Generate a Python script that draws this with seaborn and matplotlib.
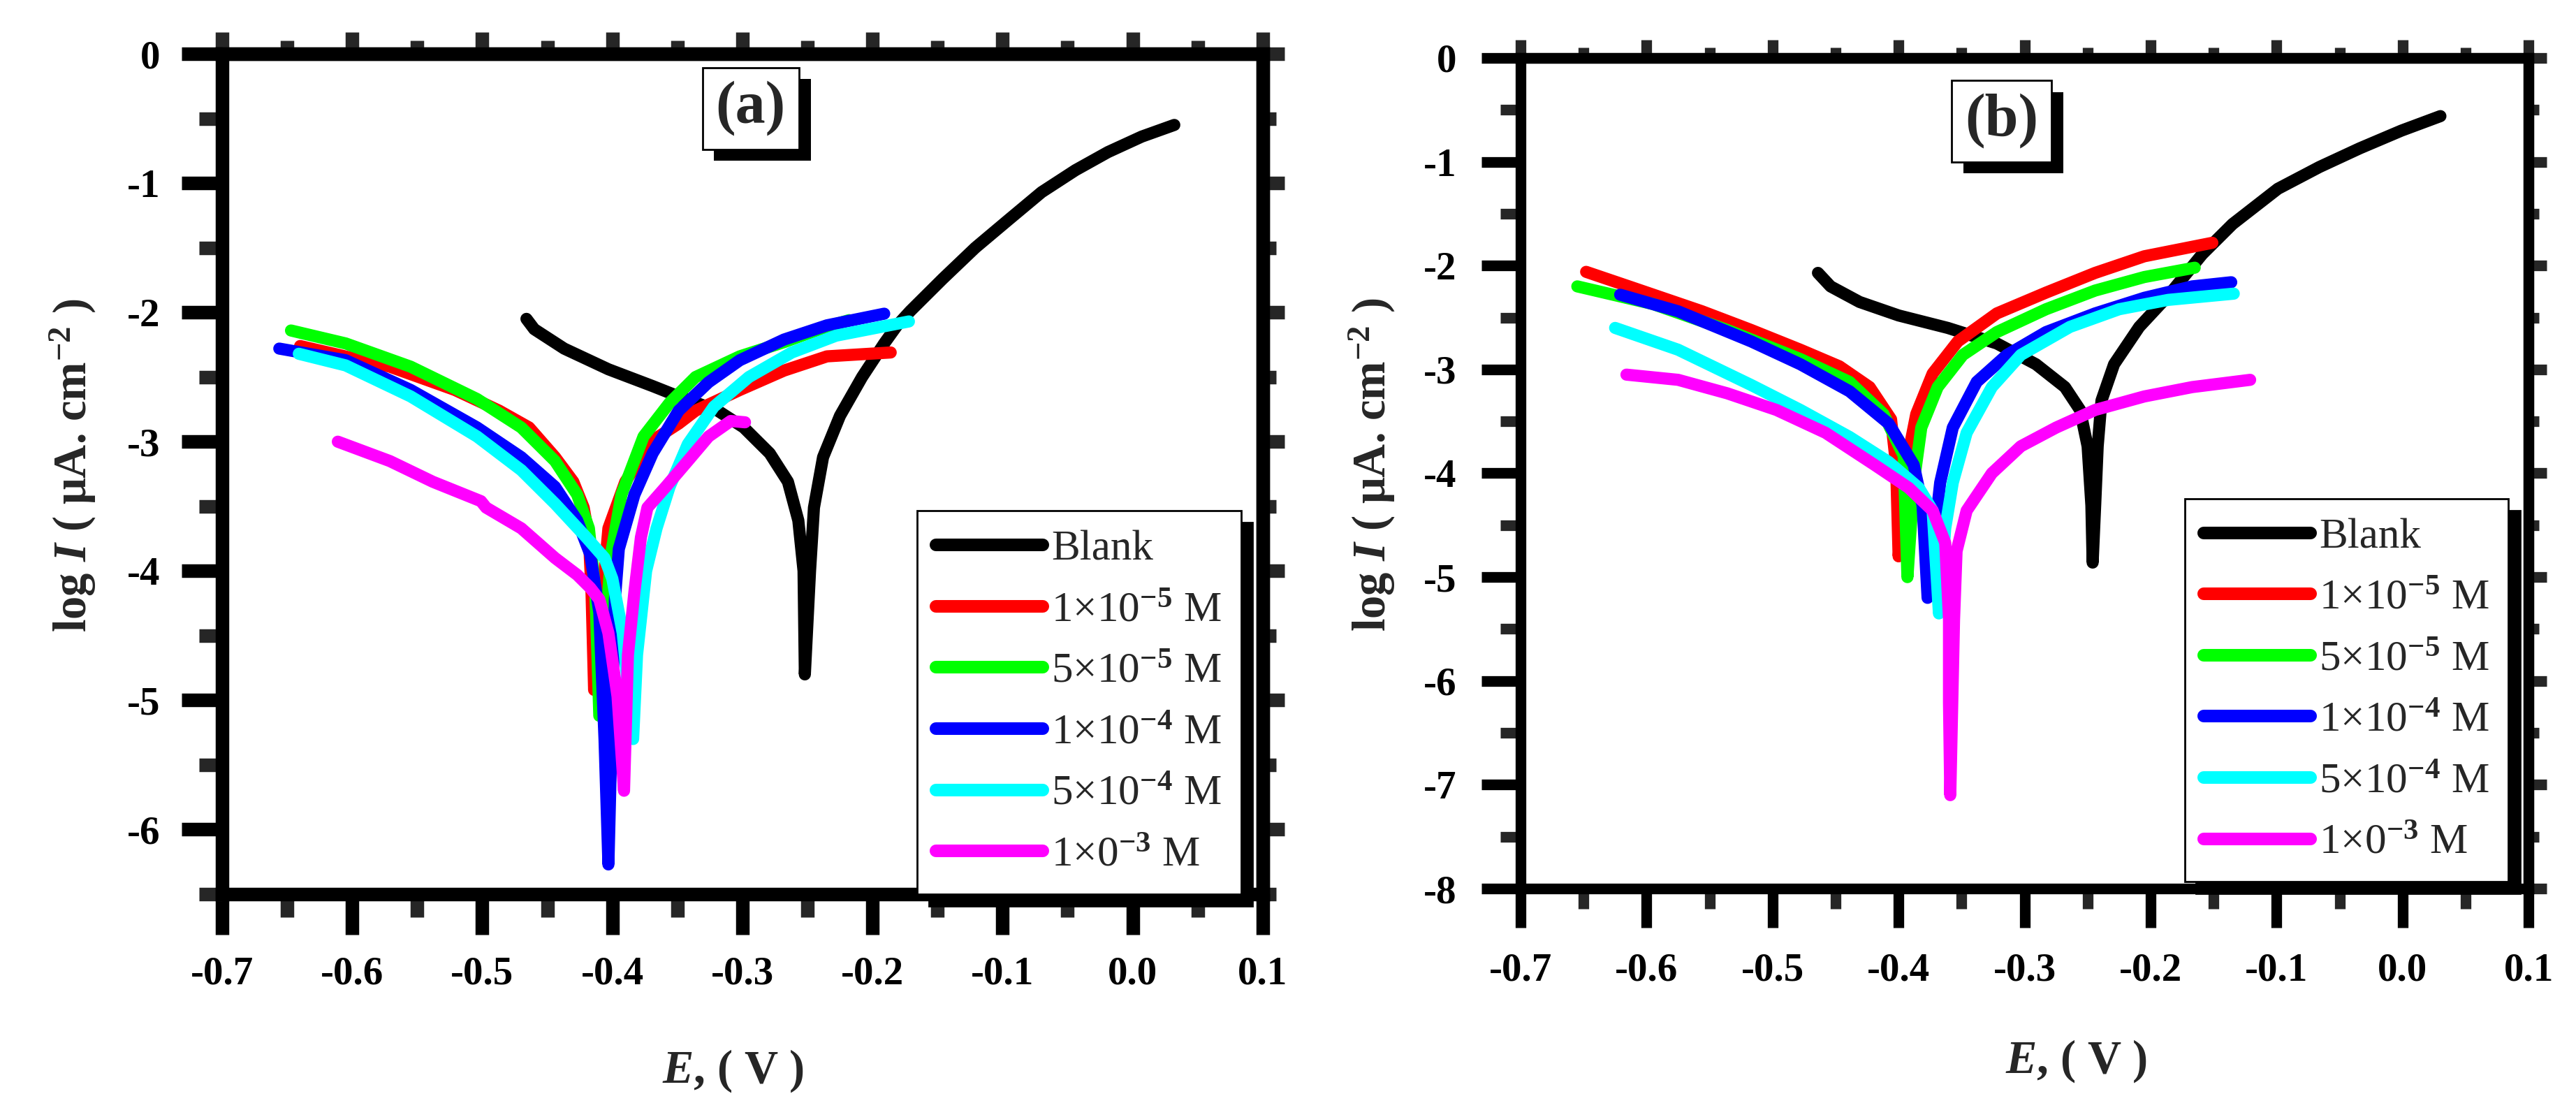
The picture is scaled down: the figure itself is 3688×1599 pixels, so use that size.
import pandas as pd
import seaborn as sns
import matplotlib
matplotlib.use("Agg")
import matplotlib.pyplot as plt
import matplotlib.patheffects as pe
from matplotlib.ticker import MultipleLocator, FormatStrFormatter

SERIES = ["Blank", "1×10$^{-5}$ M", "5×10$^{-5}$ M",
          "1×10$^{-4}$ M", "5×10$^{-4}$ M", "1×0$^{-3}$ M"]
COLORS = ["#000000", "#ff0000", "#00ff00", "#0000ff", "#00ffff", "#ff00ff"]

# ---- panel (a) ----
a_blank_E = [-0.466, -0.460, -0.437, -0.403, -0.369, -0.349, -0.319, -0.299, -0.279, -0.265,
             -0.257, -0.253, -0.252, -0.248, -0.245, -0.238, -0.225, -0.208, -0.191, -0.181,
             -0.171, -0.146, -0.121, -0.095, -0.070, -0.044, -0.019, 0.007, 0.032]
a_blank_I = [-2.05, -2.13, -2.28, -2.44, -2.57, -2.65, -2.76, -2.89, -3.09, -3.31,
             -3.61, -4.00, -4.80, -4.00, -3.51, -3.12, -2.80, -2.50, -2.24, -2.10,
             -1.99, -1.74, -1.50, -1.28, -1.07, -0.90, -0.76, -0.64, -0.55]
a_red_E = [-0.640, -0.571, -0.521, -0.487, -0.464, -0.444, -0.430, -0.422, -0.418, -0.416,
           -0.414, -0.403, -0.390, -0.369, -0.349, -0.336, -0.302, -0.268, -0.235, -0.186]
a_red_I = [-2.26, -2.42, -2.60, -2.76, -2.89, -3.12, -3.31, -3.51, -3.74, -4.16,
           -4.92, -3.67, -3.31, -2.99, -2.86, -2.76, -2.60, -2.45, -2.34, -2.31]
a_green_E = [-0.647, -0.605, -0.555, -0.504, -0.470, -0.444, -0.427, -0.418, -0.413, -0.410,
             -0.401, -0.393, -0.376, -0.356, -0.336, -0.302, -0.268, -0.235, -0.218]
a_green_I = [-2.14, -2.24, -2.42, -2.67, -2.89, -3.15, -3.41, -3.67, -4.16, -5.12,
             -3.87, -3.41, -2.96, -2.70, -2.50, -2.34, -2.23, -2.11, -2.06]
a_blue_E = [-0.656, -0.605, -0.555, -0.504, -0.470, -0.444, -0.427, -0.417, -0.410, -0.406,
            -0.403, -0.398, -0.395, -0.383, -0.369, -0.349, -0.326, -0.302, -0.268, -0.235, -0.191]
a_blue_I = [-2.28, -2.37, -2.60, -2.89, -3.12, -3.35, -3.61, -3.87, -4.32, -5.30,
            -6.27, -4.22, -3.83, -3.41, -3.09, -2.76, -2.54, -2.37, -2.21, -2.10, -2.01]
a_cyan_E = [-0.641, -0.605, -0.555, -0.504, -0.470, -0.444, -0.420, -0.406, -0.400, -0.392,
            -0.384, -0.381, -0.374, -0.366, -0.356, -0.342, -0.322, -0.295, -0.262, -0.228, -0.172]
a_cyan_I = [-2.32, -2.41, -2.65, -2.96, -3.22, -3.48, -3.74, -3.90, -4.06, -4.48,
            -5.30, -4.65, -4.00, -3.67, -3.35, -3.02, -2.73, -2.50, -2.31, -2.18, -2.07]
a_mag_E = [-0.611, -0.571, -0.538, -0.501, -0.497, -0.470, -0.444, -0.427, -0.417, -0.410,
           -0.403, -0.396, -0.391, -0.388, -0.383, -0.378, -0.373, -0.359, -0.342, -0.326,
           -0.309, -0.298]
a_mag_I = [-3.00, -3.15, -3.31, -3.46, -3.51, -3.67, -3.90, -4.03, -4.13, -4.22,
           -4.48, -4.97, -5.70, -4.65, -4.16, -3.74, -3.51, -3.35, -3.15, -2.96,
           -2.84, -2.85]

# ---- panel (b) ----
b_blank_E = [-0.464, -0.454, -0.431, -0.400, -0.361, -0.322, -0.291, -0.268, -0.256, -0.250,
             -0.247, -0.246, -0.244, -0.242, -0.239, -0.229, -0.209, -0.186, -0.159, -0.135,
             -0.099, -0.066, -0.034, -0.001, 0.030]
b_blank_I = [-2.07, -2.20, -2.35, -2.48, -2.60, -2.75, -2.95, -3.17, -3.39, -3.74,
             -4.31, -4.86, -4.31, -3.74, -3.30, -2.95, -2.59, -2.29, -1.89, -1.60,
             -1.26, -1.05, -0.87, -0.70, -0.56]
b_red_E = [-0.648, -0.614, -0.556, -0.517, -0.478, -0.447, -0.423, -0.406, -0.402, -0.400,
           -0.394, -0.386, -0.373, -0.353, -0.322, -0.283, -0.244, -0.205, -0.151]
b_red_I = [-2.06, -2.20, -2.44, -2.62, -2.81, -2.97, -3.17, -3.48, -3.92, -4.80,
           -3.92, -3.43, -3.04, -2.73, -2.46, -2.26, -2.07, -1.91, -1.78]
b_green_E = [-0.655, -0.595, -0.536, -0.478, -0.439, -0.412, -0.396, -0.393, -0.388, -0.382,
             -0.369, -0.349, -0.322, -0.283, -0.244, -0.205, -0.165]
b_green_I = [-2.20, -2.37, -2.62, -2.90, -3.12, -3.43, -3.83, -5.00, -4.09, -3.56,
             -3.17, -2.86, -2.64, -2.42, -2.24, -2.11, -2.02]
b_blue_E = [-0.621, -0.575, -0.517, -0.478, -0.439, -0.408, -0.388, -0.381, -0.377, -0.371,
            -0.367, -0.357, -0.338, -0.314, -0.283, -0.244, -0.205, -0.167, -0.136]
b_blue_I = [-2.28, -2.44, -2.73, -2.95, -3.21, -3.52, -3.92, -4.31, -5.20, -4.53,
            -4.09, -3.56, -3.12, -2.86, -2.64, -2.46, -2.31, -2.20, -2.16]
b_cyan_E = [-0.625, -0.575, -0.517, -0.478, -0.439, -0.408, -0.384, -0.373, -0.368, -0.363,
            -0.357, -0.346, -0.326, -0.303, -0.264, -0.225, -0.186, -0.134]
b_cyan_I = [-2.60, -2.81, -3.15, -3.39, -3.65, -3.89, -4.14, -4.36, -5.35, -4.53,
            -4.09, -3.61, -3.17, -2.86, -2.59, -2.42, -2.33, -2.27]
b_mag_E = [-0.616, -0.575, -0.536, -0.497, -0.458, -0.419, -0.392, -0.373, -0.363, -0.360,
           -0.360, -0.359, -0.356, -0.354, -0.346, -0.326, -0.303, -0.275, -0.244, -0.205,
           -0.167, -0.121]
b_mag_I = [-3.05, -3.10, -3.23, -3.39, -3.61, -3.92, -4.14, -4.36, -4.67, -5.41,
           -6.21, -7.10, -5.41, -4.75, -4.36, -4.00, -3.74, -3.56, -3.39, -3.26,
           -3.17, -3.10]


def build_frame(pairs):
    parts = []
    for name, (e, i) in zip(SERIES, pairs):
        parts.append(pd.DataFrame({"E": e, "logI": i, "series": name}))
    return pd.concat(parts, ignore_index=True)


df_a = build_frame([(a_blank_E, a_blank_I), (a_red_E, a_red_I), (a_green_E, a_green_I),
                    (a_blue_E, a_blue_I), (a_cyan_E, a_cyan_I), (a_mag_E, a_mag_I)])
df_b = build_frame([(b_blank_E, b_blank_I), (b_red_E, b_red_I), (b_green_E, b_green_I),
                    (b_blue_E, b_blue_I), (b_cyan_E, b_cyan_I), (b_mag_E, b_mag_I)])

sns.set_theme(style="ticks")
plt.rcParams["font.family"] = ["Liberation Serif", "DejaVu Serif"]
plt.rcParams["font.weight"] = "bold"
plt.rcParams["axes.unicode_minus"] = False
plt.rcParams["mathtext.fontset"] = "custom"
plt.rcParams["mathtext.rm"] = "Liberation Serif"
plt.rcParams["mathtext.it"] = "Liberation Serif:italic:bold"
plt.rcParams["mathtext.bf"] = "Liberation Serif:bold"
plt.rcParams["mathtext.default"] = "rm"


def style_panel(ax, ymin, lw, major, minor, out_major, out_minor, pad):
    ax.set_xlim(-0.7, 0.1)
    ax.set_ylim(ymin, 0)
    ax.xaxis.set_major_locator(MultipleLocator(0.1))
    ax.xaxis.set_minor_locator(MultipleLocator(0.05))
    ax.yaxis.set_major_locator(MultipleLocator(1))
    ax.yaxis.set_minor_locator(MultipleLocator(0.5))
    ax.xaxis.set_major_formatter(FormatStrFormatter("%.1f"))
    ax.yaxis.set_major_formatter(FormatStrFormatter("%d"))
    for s in ax.spines.values():
        s.set_visible(True)
        s.set_linewidth(lw)
        s.set_color("black")
    ax.tick_params(which="major", direction="out", length=major, width=lw, pad=pad,
                   labelsize=41, colors="black", top=False, right=False)
    ax.tick_params(which="minor", direction="out", length=minor, width=lw,
                   top=False, right=False)

    top = ax.secondary_xaxis("top")
    top.xaxis.set_major_locator(MultipleLocator(0.1))
    top.xaxis.set_minor_locator(MultipleLocator(0.05))
    top.tick_params(which="major", direction="out", length=out_major, width=lw, labeltop=False)
    top.tick_params(which="minor", direction="out", length=out_minor, width=lw)
    top.spines["top"].set_linewidth(lw)

    right = ax.secondary_yaxis("right")
    right.yaxis.set_major_locator(MultipleLocator(1))
    right.yaxis.set_minor_locator(MultipleLocator(0.5))
    right.tick_params(which="major", direction="out", length=out_major, width=lw, labelright=False)
    right.tick_params(which="minor", direction="out", length=out_minor, width=lw)
    right.spines["right"].set_linewidth(lw)


def draw_panel(ax, df, tag, tag_xy, leg_anchor, ylab_x, xlab_xy):
    sns.lineplot(data=df, x="E", y="logI", hue="series", hue_order=SERIES, palette=COLORS,
                 sort=False, estimator=None, linewidth=12.5, solid_capstyle="round",
                 solid_joinstyle="round", ax=ax)
    old = ax.get_legend()
    handles = list(old.legend_handles)
    labels = [t.get_text() for t in old.get_texts()]
    old.remove()
    leg = ax.legend(handles, labels, loc="lower right", bbox_to_anchor=leg_anchor,
                    frameon=True, fancybox=False, framealpha=1, edgecolor="black",
                    borderaxespad=0, handlelength=2.5, handletextpad=0.2,
                    labelspacing=0.52, borderpad=0.45,
                    prop={"family": "Liberation Serif", "size": 44, "weight": "normal"},
                    shadow={"ox": 12, "oy": -12, "color": "black", "alpha": 1})
    leg.get_frame().set_linewidth(2)
    for h in leg.legend_handles:
        h.set_linewidth(13)
        h.set_solid_capstyle("round")

    ax.set_ylabel(r"log $\mathit{I}$ ( μA. cm$^{\mathbf{-2}}$ )", fontsize=48,
                  fontweight="bold", va="center")
    ax.yaxis.set_label_coords(ylab_x, 0.51)
    ax.set_xlabel(r"$\mathit{E}$, ( V )", fontsize=48, fontweight="bold", va="center")
    ax.xaxis.set_label_coords(*xlab_xy)

    t = ax.text(tag_xy[0], tag_xy[1], tag, transform=ax.transAxes, ha="center", va="center",
                fontsize=62, fontweight="bold", zorder=6,
                bbox=dict(boxstyle="square,pad=0.22", fc="white", ec="black", lw=2))
    t.get_bbox_patch().set_path_effects(
        [pe.withSimplePatchShadow(offset=(12, -12), shadow_rgbFace="black", alpha=1.0)])


fig = plt.figure(figsize=(36.88, 15.99), dpi=100)
ax_a = fig.add_axes([0.0862, 0.1995, 0.4040, 0.7523])
ax_b = fig.add_axes([0.5903, 0.2045, 0.3913, 0.7436])

style_panel(ax_a, -6.5, 14, 42, 24, 22, 14, 22)
style_panel(ax_b, -8, 11, 40, 21, 19, 11, 26)

draw_panel(ax_a, df_a, "(a)", (0.508, 0.935), (0.979, 0.0), -0.143, (0.491, -0.21))
draw_panel(ax_b, df_b, "(b)", (0.477, 0.924), (0.980, 0.008), -0.147, (0.551, -0.208))

fig.savefig("out.png", dpi=100)
